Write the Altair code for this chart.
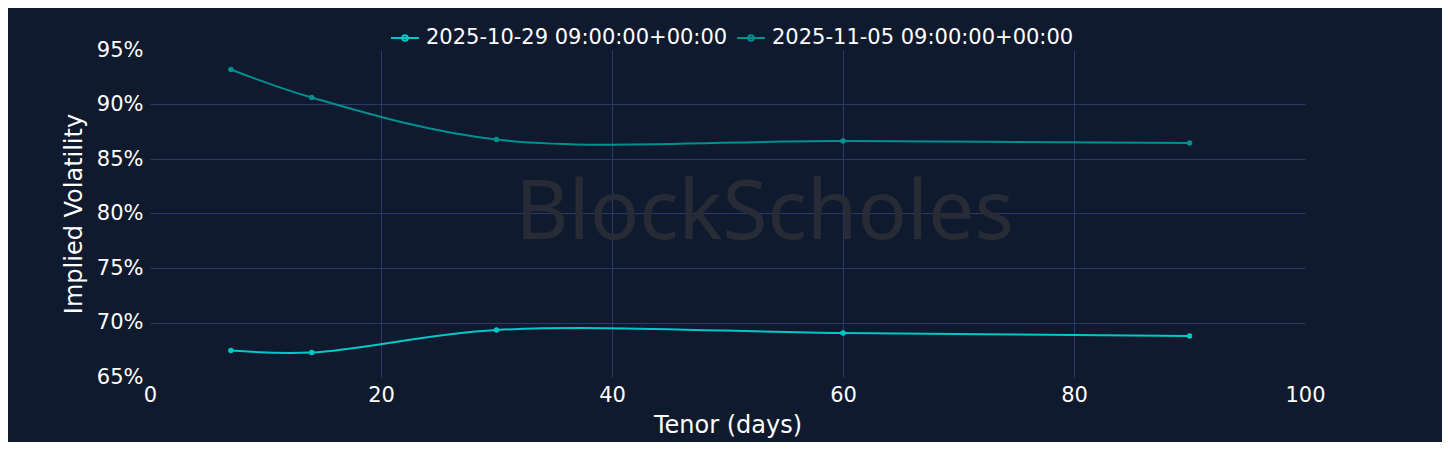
import altair as alt
import pandas as pd

tenors = [7, 14, 30, 60, 90]
iv_1029 = [0.6743, 0.6725, 0.6931, 0.6904, 0.6876]
iv_1105 = [0.9321, 0.9064, 0.8679, 0.8665, 0.8647]
series_names = ["2025-10-29 09:00:00+00:00", "2025-11-05 09:00:00+00:00"]
series_colors = ["#00c8c8", "#008f8f"]
x_ticks = [0, 20, 40, 60, 80, 100]
y_ticks = [0.65, 0.70, 0.75, 0.80, 0.85, 0.90, 0.95]
watermark = ["BlockScholes"]
watermark_pos = [53.2, 0.80]

rows = []
for name, vals in zip(series_names, [iv_1029, iv_1105]):
    for t, v in zip(tenors, vals):
        rows.append({"tenor": t, "iv": v, "series": name})
df = pd.DataFrame(rows)
wm_df = pd.DataFrame({"x": [watermark_pos[0]], "y": [watermark_pos[1]], "label": watermark})

BG = "#0f1a2e"
GRID = "#28396a"
FONT = "DejaVu Sans"

x_scale = alt.Scale(domain=[0, 100], nice=False, zero=False)
y_scale = alt.Scale(domain=[0.65, 0.95], nice=False, zero=False)

x_axis = alt.Axis(
    values=x_ticks, title="Tenor (days)", format="d",
    grid=True, gridColor=GRID, gridWidth=1,
    gridOpacity={"condition": {"test": "datum.value > 0 && datum.value < 100", "value": 1}, "value": 0},
    domain=False, ticks=False, labelColor="#ffffff", labelFontSize=21, labelFont=FONT,
    labelPadding=7, labelFlush=False, titleColor="#ffffff", titleFontSize=24, titleFont=FONT,
    titleFontWeight="normal", titlePadding=8,
)
y_axis = alt.Axis(
    values=y_ticks, title="Implied Volatility", format=".0%",
    grid=True, gridColor=GRID, gridWidth=1,
    gridOpacity={"condition": {"test": "datum.value > 0.66 && datum.value < 0.94", "value": 1}, "value": 0},
    domain=False, ticks=False, labelColor="#ffffff", labelFontSize=21, labelFont=FONT,
    labelPadding=7, titleColor="#ffffff", titleFontSize=24, titleFont=FONT,
    titleFontWeight="normal", titlePadding=10,
)

wm = alt.Chart(wm_df).mark_text(
    font="Noto Sans", fontSize=82, color="#272b36", align="center", baseline="middle"
).encode(
    x=alt.X("x:Q", scale=x_scale, axis=x_axis),
    y=alt.Y("y:Q", scale=y_scale, axis=y_axis),
    text="label:N",
)

color_scale = alt.Scale(domain=series_names, range=series_colors)

legend_path = "M-1,0L1,0M-0.2,0a0.2,0.2 0 1,0 0.4,0a0.2,0.2 0 1,0 -0.4,0"

lines = alt.Chart(df).mark_line(interpolate="catmull-rom", strokeWidth=2).encode(
    x=alt.X("tenor:Q", scale=x_scale, axis=x_axis),
    y=alt.Y("iv:Q", scale=y_scale, axis=y_axis),
    color=alt.Color(
        "series:N", scale=color_scale,
        legend=alt.Legend(
            title=None, orient="none", legendX=240, legendY=-27, direction="horizontal",
            symbolType=legend_path, symbolSize=784, symbolStrokeWidth=2,
            labelColor="#ffffff", labelFontSize=21, labelFont=FONT, labelLimit=0,
            labelOffset=6, columnPadding=5,
        ),
    ),
)

points = alt.Chart(df).mark_circle(size=30, opacity=1).encode(
    x=alt.X("tenor:Q", scale=x_scale, axis=x_axis),
    y=alt.Y("iv:Q", scale=y_scale, axis=y_axis),
    color=alt.Color("series:N", scale=color_scale, legend=None),
)

chart = alt.layer(wm, lines, points).resolve_legend(color="independent").properties(
    width=1155, height=327,
    autosize=alt.AutoSizeParams(type="none"),
    padding={"left": 142, "top": 42, "right": 137, "bottom": 65},
    background=BG,
).configure_view(stroke=None)

chart.save("out.html", embed_options={"renderer": "svg", "actions": False})
